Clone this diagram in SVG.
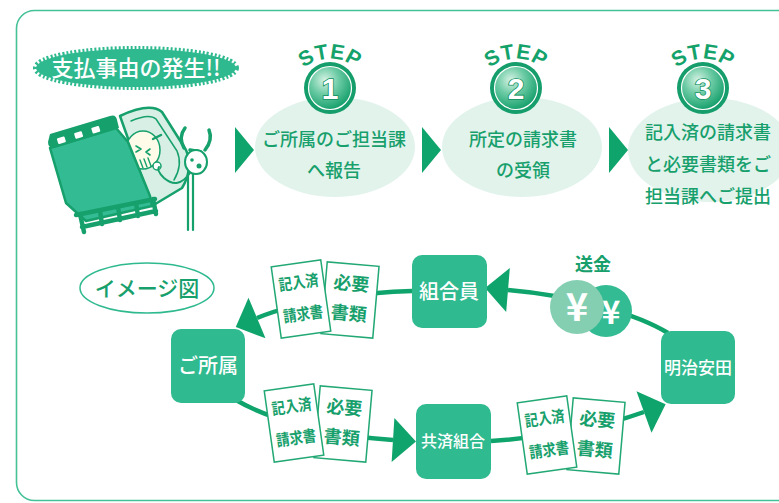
<svg xmlns="http://www.w3.org/2000/svg" width="779" height="503" viewBox="0 0 779 503">
<defs>
<style>
.jp{font-family:"Noto Sans CJK JP","Noto Sans",sans-serif}
.step-t{font-size:18px;fill:#17a06c;font-weight:500;text-anchor:middle}
.oval{fill:#e2f3ec}
.stepword{font-family:"Liberation Sans",Arial,sans-serif;font-weight:700;font-size:21px;fill:#14a26b;letter-spacing:0.5px}
.num{font-family:"Liberation Sans",Arial,sans-serif;font-weight:700;font-size:30px;fill:#fff;stroke:#0f8f5e;stroke-width:1.6;paint-order:stroke;text-anchor:middle}
.tri{fill:#0ea46b}
.node rect{fill:#30ba90}
.node text{fill:#fff;font-weight:500;text-anchor:middle}
.link{fill:none;stroke:#0ea46b;stroke-width:4.5}
.doc{fill:#fff;stroke:#22a874;stroke-width:1.5}
.doc-t{fill:#17a06c;font-weight:700;text-anchor:middle}
.ink{stroke:#16a06c;stroke-linejoin:round;stroke-linecap:round}
</style>
<marker id="head" markerUnits="userSpaceOnUse" markerWidth="24" markerHeight="46" viewBox="0 -23 24 46" refX="0" refY="0" orient="auto" overflow="visible">
<path d="M0,-22 L23,0 L0,22 z" fill="#0ea46b"/>
</marker>
<radialGradient id="ball" cx="0.38" cy="0.32" r="0.72">
<stop offset="0" stop-color="#d6f2e5"/>
<stop offset="0.45" stop-color="#6ccba4"/>
<stop offset="1" stop-color="#119d69"/>
</radialGradient>
<path id="arc1" d="M294,79 A42,42 0 0 1 366,79"/>
<path id="arc2" d="M480,79 A42,42 0 0 1 552,79"/>
<path id="arc3" d="M667,79 A42,42 0 0 1 739,79"/>
<!-- pair of paper sheets: filled-in claim form in front, required documents behind -->
<g id="docpair">
<g transform="translate(49,1) rotate(5)">
<rect class="doc" x="-26" y="-36" width="52" height="72"/>
<text class="doc-t jp" font-size="18" y="-10">必要</text>
<text class="doc-t jp" font-size="18" y="20">書類</text>
</g>
<g transform="rotate(-8)">
<rect class="doc" x="-25" y="-36" width="50" height="72"/>
<text class="doc-t jp" font-size="16" y="-11" transform="scale(0.84,1)">記入済</text>
<text class="doc-t jp" font-size="16" y="21" transform="scale(0.84,1)">請求書</text>
</g>
</g>
</defs>

<rect width="779" height="503" fill="#fff"/>
<!-- outer frame -->
<rect x="16.5" y="10.5" width="800" height="490" rx="18" fill="none" stroke="#45c196" stroke-width="1.6"/>

<!-- serrated badge -->
<g id="badge">
<ellipse cx="136" cy="68" rx="100" ry="19" fill="#2fb98f" stroke="#2fb98f" stroke-width="6" stroke-dasharray="2 2"/>
<text class="jp" x="136" y="76" font-size="22" font-weight="500" fill="#fff" text-anchor="middle">支払事由の発生!!</text>
</g>

<!-- patient in bed with drip stand -->
<g id="patient">
<path class="ink" d="M120,116 Q150,102 162,112 L186,150 Q194,168 182,188 L152,206 Z" fill="#d8efe5" stroke-width="2.5"/>
<path class="ink" d="M131,121 Q149,113 156,119 L177,151 Q183,165 174,180" fill="none" stroke-width="1.5"/>
<ellipse cx="143" cy="150" rx="17" ry="19" fill="#fffbe9" class="ink" stroke-width="1.5"/>
<path class="ink" d="M136,146 L141,149 L136,152 M150,149 L146,152 L150,155" fill="none" stroke-width="1.6"/>
<path class="ink" d="M140,160 L143,168 M144,159 L147,167 M148,158 L151,166" fill="none" stroke-width="1.4"/>
<circle cx="157" cy="166" r="4" fill="#fff" class="ink" stroke-width="1.5"/>
<path class="ink" d="M153,139 L161,135" fill="none" stroke-width="2.5"/>
<path class="ink" d="M50,148 L116,128 L128,142 L150,196 L152,206 L86,221 L66,203 Z" fill="#33bb93" stroke-width="2.5"/>
<path d="M50,134 L110,116 Q116,114 117,120 L119,128 L54,148 Q48,148 48,142 Z" fill="#16a06c"/>
<g fill="#fff" transform="rotate(-17 85 132)">
<rect x="56" y="130" width="8" height="6" rx="1"/>
<rect x="74" y="130" width="8" height="6" rx="1"/>
<rect x="92" y="130" width="8" height="6" rx="1"/>
</g>
<path class="ink" d="M76,215 L155,199 M82,227 L156,211 M80,214 L84,232 M153,199 L156,214 M100,211 L102,224 M118,207 L120,220 M136,203 L138,216" fill="none" stroke-width="4.5"/>
<path class="ink" d="M188,172 L188,230 M193,172 L193,230" fill="none" stroke-width="2.2"/>
<path class="ink" d="M184,148 Q178,137 185,128 M205,150 Q213,140 209,130 M190,150 L201,152" fill="none" stroke-width="3.5"/>
<ellipse cx="196" cy="162" rx="11" ry="12" fill="#fff" class="ink" stroke-width="2"/>
<circle cx="199" cy="166" r="2.5" fill="#16a06c"/>
<circle cx="192" cy="160" r="1.8" fill="#16a06c"/>
<path class="ink" d="M190,173 Q178,190 164,178 Q156,170 159,167" fill="none" stroke-width="2"/>
</g>

<!-- step arrows -->
<polygon class="tri" points="235,127 254,150 235,173"/>
<polygon class="tri" points="422,127 441,150 422,173"/>
<polygon class="tri" points="609,127 628,150 609,173"/>

<!-- step 1 -->
<g id="step1">
<ellipse class="oval" cx="335" cy="147" rx="80" ry="50"/>
<text class="stepword"><textPath href="#arc1" startOffset="50%" text-anchor="middle">STEP</textPath></text>
<circle cx="330" cy="88" r="26" fill="#159e6b"/>
<circle cx="330" cy="88" r="21.5" fill="url(#ball)" stroke="#fff" stroke-width="1.2"/>
<text class="num" x="330" y="99">1</text>
<text class="step-t jp" x="334" y="146">ご所属のご担当課</text>
<text class="step-t jp" x="334" y="177">へ報告</text>
</g>

<!-- step 2 -->
<g id="step2">
<ellipse class="oval" cx="522" cy="147" rx="80" ry="50"/>
<text class="stepword"><textPath href="#arc2" startOffset="50%" text-anchor="middle">STEP</textPath></text>
<circle cx="516" cy="88" r="26" fill="#159e6b"/>
<circle cx="516" cy="88" r="21.5" fill="url(#ball)" stroke="#fff" stroke-width="1.2"/>
<text class="num" x="516" y="99">2</text>
<text class="step-t jp" x="523" y="146">所定の請求書</text>
<text class="step-t jp" x="523" y="177">の受領</text>
</g>

<!-- step 3 -->
<g id="step3">
<ellipse class="oval" cx="710" cy="150" rx="82" ry="52"/>
<text class="stepword"><textPath href="#arc3" startOffset="50%" text-anchor="middle">STEP</textPath></text>
<circle cx="703" cy="88" r="26" fill="#159e6b"/>
<circle cx="703" cy="88" r="21.5" fill="url(#ball)" stroke="#fff" stroke-width="1.2"/>
<text class="num" x="703" y="99">3</text>
<text class="step-t jp" x="708" y="139">記入済の請求書</text>
<text class="step-t jp" x="708" y="171">と必要書類をご</text>
<text class="step-t jp" x="708" y="203">担当課へご提出</text>
</g>

<!-- label -->
<g id="image-label">
<ellipse cx="147" cy="288" rx="67" ry="25" fill="#fff" stroke="#2fb98f" stroke-width="1.5"/>
<text class="jp" x="147" y="296" font-size="21" font-weight="500" fill="#17a06c" text-anchor="middle">イメージ図</text>
</g>

<!-- flow connectors -->
<g id="connectors">
<path class="link" d="M668,333 C640,316 580,296 508,290" marker-end="url(#head)"/>
<path class="link" d="M412,291 C370,292 300,300 257,318" marker-end="url(#head)"/>
<path class="link" d="M236,400 C270,420 330,436 393,440" marker-end="url(#head)"/>
<path class="link" d="M491,441 C540,438 600,428 644,412" marker-end="url(#head)"/>
</g>

<!-- paperwork carried along the flow -->
<use href="#docpair" transform="translate(301,299)"/>
<use href="#docpair" transform="translate(294,423)"/>
<use href="#docpair" transform="translate(547,435)"/>

<!-- remittance -->
<g id="remit">
<text class="jp" x="593" y="271" font-size="18" font-weight="700" fill="#17a06c" text-anchor="middle">送金</text>
<circle cx="606" cy="311" r="26" fill="#33bb93"/>
<text class="jp" x="611" y="324" font-size="32" font-weight="700" fill="#fff" text-anchor="middle">¥</text>
<circle cx="577" cy="307" r="27" fill="#84cfb1"/>
<text class="jp" x="577" y="321" font-size="38" font-weight="700" fill="#fff" text-anchor="middle">¥</text>
</g>

<!-- parties -->
<g id="node-shozoku" class="node">
<rect x="171" y="329" width="74" height="74" rx="10"/>
<text class="jp" x="208" y="373" font-size="20">ご所属</text>
</g>
<g id="node-kumiaiin" class="node">
<rect x="412" y="255" width="75" height="73" rx="10"/>
<text class="jp" x="449" y="299" font-size="20">組合員</text>
</g>
<g id="node-meiji" class="node">
<rect x="661" y="331" width="74" height="73" rx="10"/>
<text class="jp" x="698" y="374" font-size="17">明治安田</text>
</g>
<g id="node-kyosai" class="node">
<rect x="416" y="404" width="75" height="75" rx="10"/>
<text class="jp" x="453" y="447" font-size="16">共済組合</text>
</g>
</svg>
